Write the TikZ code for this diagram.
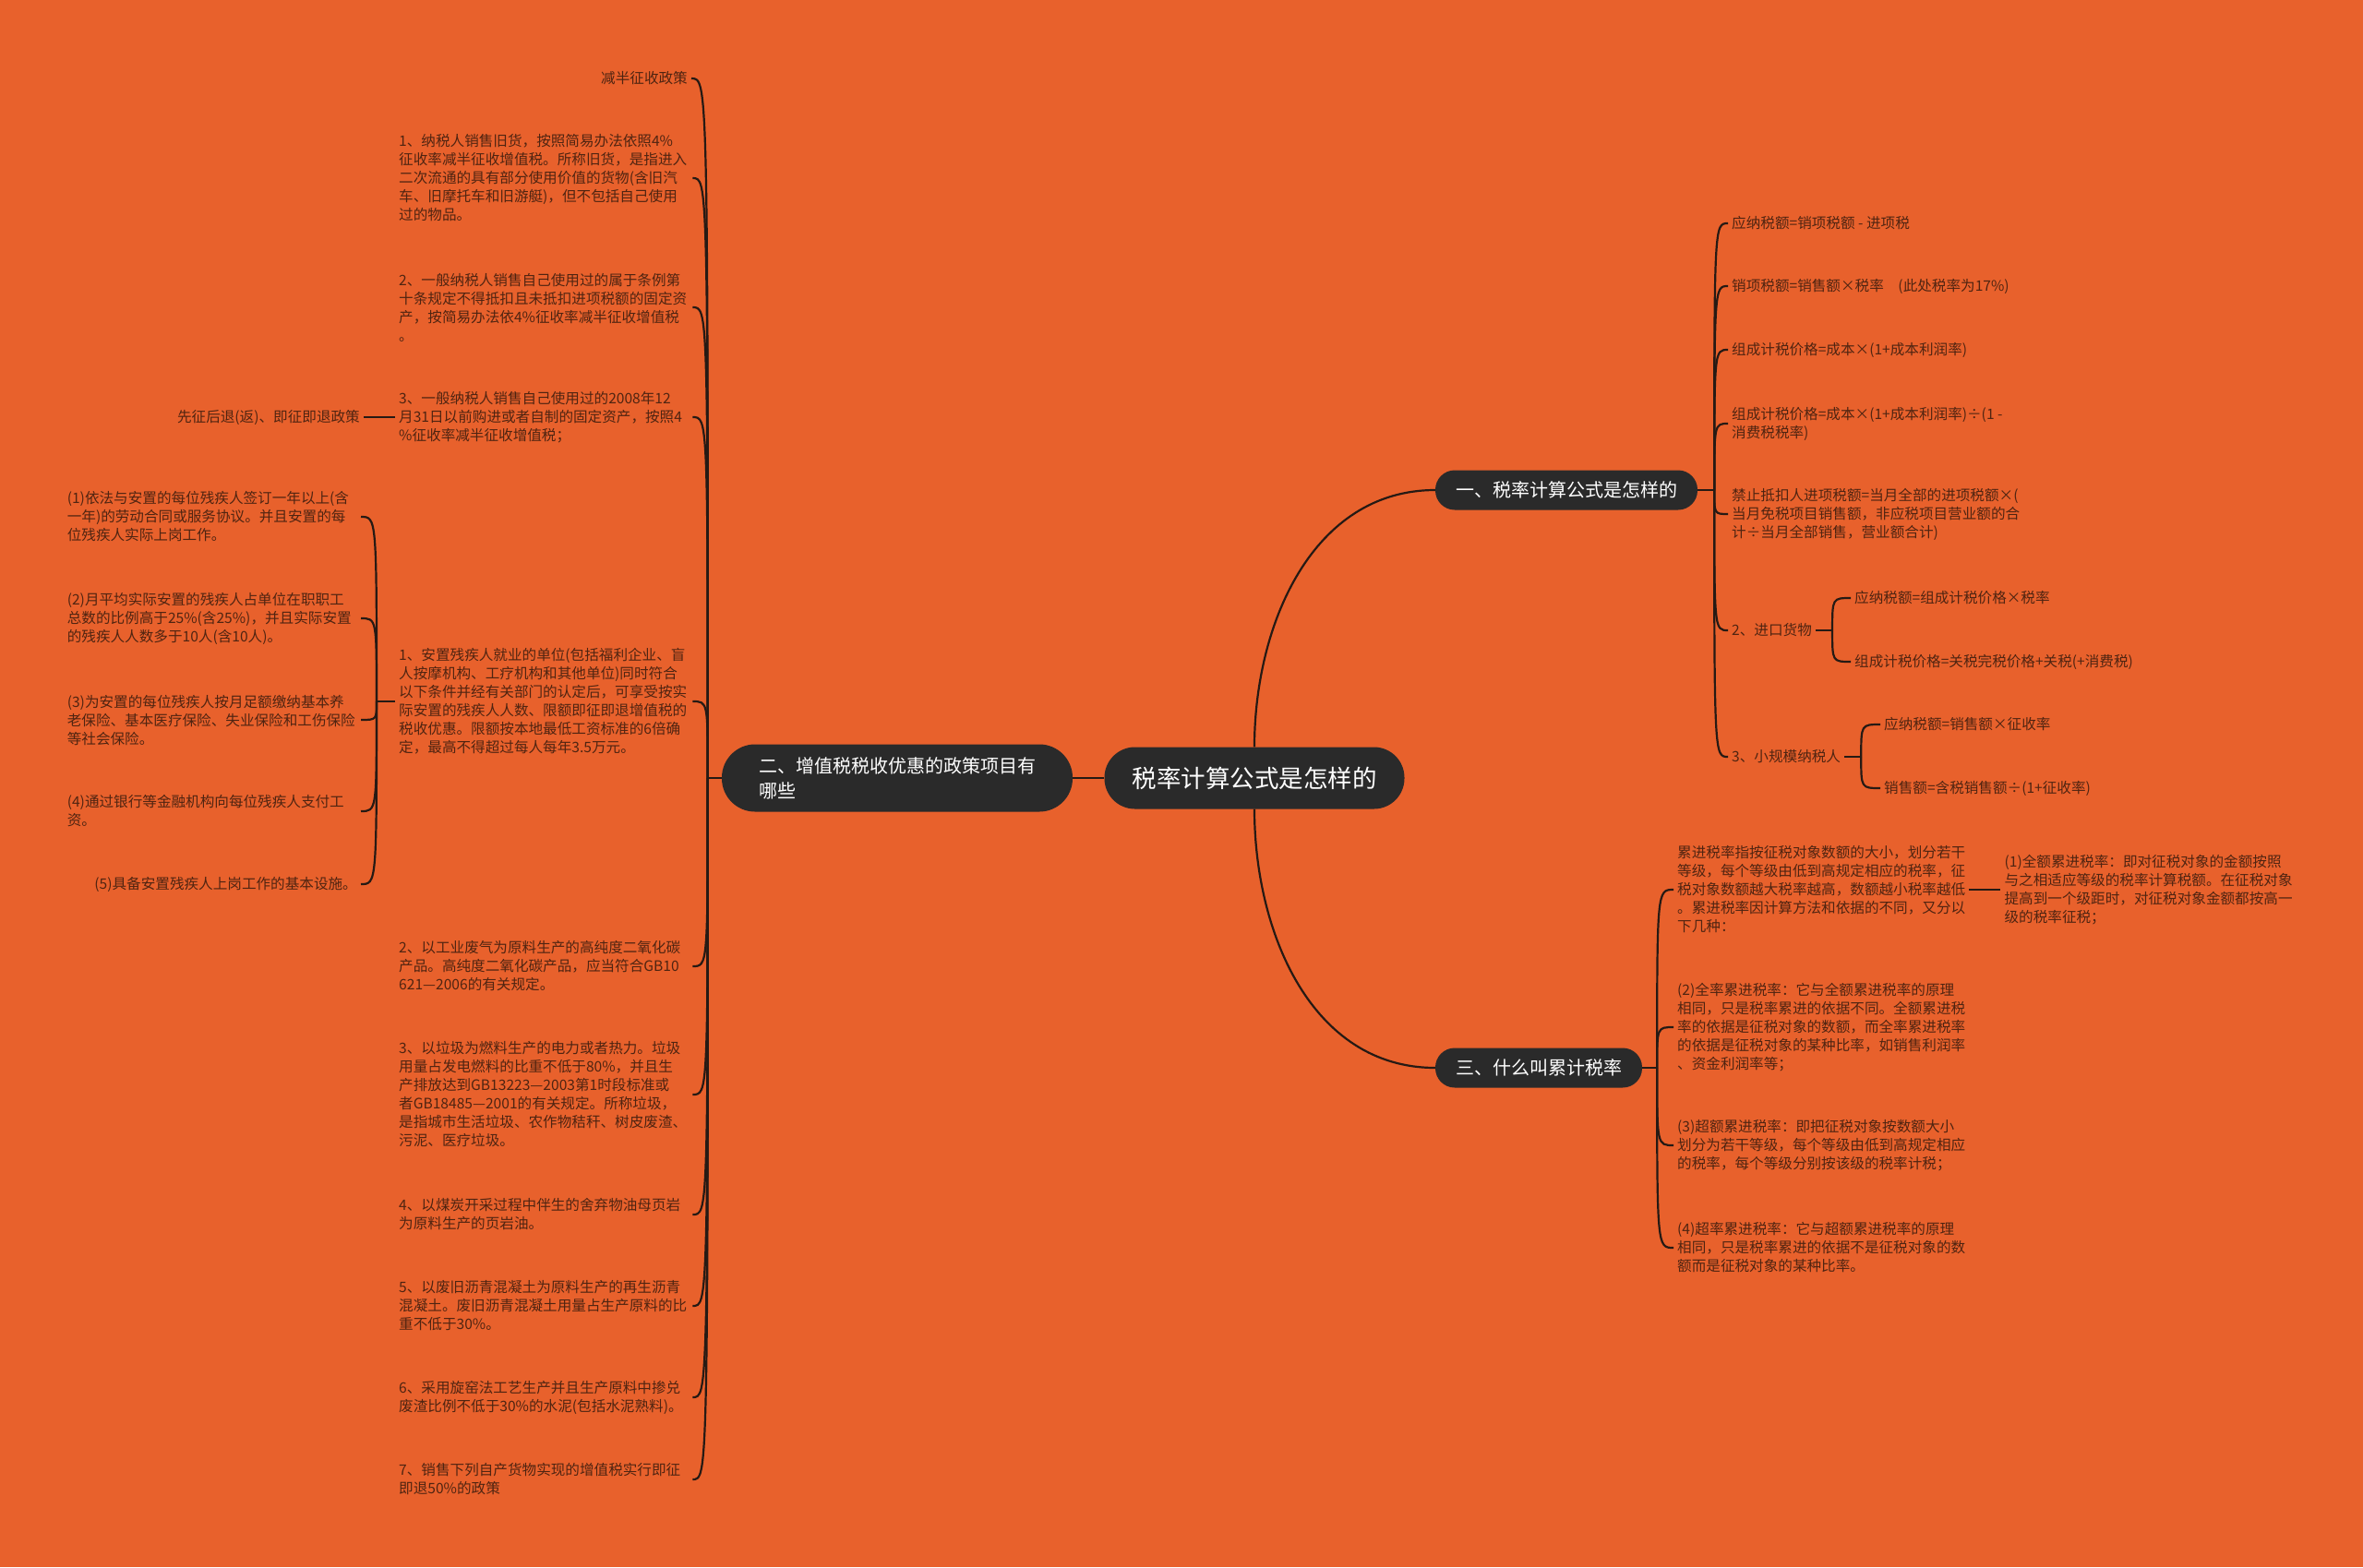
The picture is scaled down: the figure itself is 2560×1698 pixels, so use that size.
\documentclass[tikz,border=0pt]{standalone}
\usepackage{fontspec}
\setmainfont{Noto Sans CJK SC}
\usetikzlibrary{positioning,calc}
\definecolor{bgc}{HTML}{E8612C}
\definecolor{topc}{HTML}{2A2A2A}
\definecolor{leafc}{HTML}{4F2411}
\definecolor{linec}{HTML}{261A14}
\tikzset{
  topic/.style={fill=topc,text=white,rounded corners=21pt,minimum height=43pt,inner xsep=22pt,inner ysep=0pt,font=\fontsize{20}{24}\selectfont},
  leaf/.style={text=leafc,font=\fontsize{15.6}{20}\selectfont,inner sep=4pt,align=left},
  wide/.style={leaf,text width=314pt},
  link/.style={draw=linec,line width=2.2pt}
}
\begin{document}
\begin{tikzpicture}[x=1pt,y=-1pt]
\fill[bgc] (0,0) rectangle (2560,1698);
\useasboundingbox (0,0) rectangle (2560,1698);

\node[topic,rounded corners=33pt,minimum height=67pt,inner xsep=30pt,font=\fontsize{26.5}{30}\selectfont] (root) at (1359,843) {税率计算公式是怎样的};
\node[topic] (b1) at (1697,531) {一、税率计算公式是怎样的};
\node[topic,rounded corners=36pt,minimum height=73pt,inner xsep=40pt,align=left,font=\fontsize{20}{27}\selectfont] (b2) at (972,843) {二、增值税税收优惠的政策项目有\\哪些};
\node[topic] (b3) at (1667,1157) {三、什么叫累计税率};

\node[leaf,anchor=east] (b2a) at (749,85) {减半征收政策};
\node[wide,anchor=west] (b2b) at (428,193) {1、纳税人销售旧货，按照简易办法依照4\%\\征收率减半征收增值税。所称旧货，是指进入\\二次流通的具有部分使用价值的货物(含旧汽\\车、旧摩托车和旧游艇)，但不包括自己使用\\过的物品。};
\node[wide,anchor=west] (b2c) at (428,333) {2、一般纳税人销售自己使用过的属于条例第\\十条规定不得抵扣且未抵扣进项税额的固定资\\产，按简易办法依4\%征收率减半征收增值税\\。};
\node[wide,anchor=west] (b2d) at (428,452) {3、一般纳税人销售自己使用过的2008年12\\月31日以前购进或者自制的固定资产，按照4\\\%征收率减半征收增值税；};
\node[leaf,left=34pt of b2d] (b2d1) {先征后退(返)、即征即退政策};
\node[wide,anchor=west] (b2e) at (428,760) {1、安置残疾人就业的单位(包括福利企业、盲\\人按摩机构、工疗机构和其他单位)同时符合\\以下条件并经有关部门的认定后，可享受按实\\际安置的残疾人人数、限额即征即退增值税的\\税收优惠。限额按本地最低工资标准的6倍确\\定，最高不得超过每人每年3.5万元。};
\node[wide,anchor=east] (b2e1) at (391,560) {(1)依法与安置的每位残疾人签订一年以上(含\\一年)的劳动合同或服务协议。并且安置的每\\位残疾人实际上岗工作。};
\node[wide,anchor=east] (b2e2) at (391,670) {(2)月平均实际安置的残疾人占单位在职职工\\总数的比例高于25\%(含25\%)，并且实际安置\\的残疾人人数多于10人(含10人)。};
\node[wide,anchor=east] (b2e3) at (391,780) {(3)为安置的每位残疾人按月足额缴纳基本养\\老保险、基本医疗保险、失业保险和工伤保险\\等社会保险。};
\node[wide,anchor=east] (b2e4) at (391,879) {(4)通过银行等金融机构向每位残疾人支付工\\资。};
\node[leaf,anchor=east] (b2e5) at (391,958) {(5)具备安置残疾人上岗工作的基本设施。};
\node[wide,anchor=west] (b2f) at (428,1047) {2、以工业废气为原料生产的高纯度二氧化碳\\产品。高纯度二氧化碳产品，应当符合GB10\\621—2006的有关规定。};
\node[wide,anchor=west] (b2g) at (428,1186) {3、以垃圾为燃料生产的电力或者热力。垃圾\\用量占发电燃料的比重不低于80\%，并且生\\产排放达到GB13223—2003第1时段标准或\\者GB18485—2001的有关规定。所称垃圾，\\是指城市生活垃圾、农作物秸秆、树皮废渣、\\污泥、医疗垃圾。};
\node[wide,anchor=west] (b2h) at (428,1316) {4、以煤炭开采过程中伴生的舍弃物油母页岩\\为原料生产的页岩油。};
\node[wide,anchor=west] (b2i) at (428,1415) {5、以废旧沥青混凝土为原料生产的再生沥青\\混凝土。废旧沥青混凝土用量占生产原料的比\\重不低于30\%。};
\node[wide,anchor=west] (b2j) at (428,1514) {6、采用旋窑法工艺生产并且生产原料中掺兑\\废渣比例不低于30\%的水泥(包括水泥熟料)。};
\node[wide,anchor=west] (b2k) at (428,1603) {7、销售下列自产货物实现的增值税实行即征\\即退50\%的政策};

\node[leaf,anchor=west] (b1a) at (1872,242) {应纳税额=销项税额 - 进项税};
\node[leaf,anchor=west] (b1b) at (1872,310) {销项税额=销售额×税率\quad(此处税率为17\%)};
\node[leaf,anchor=west] (b1c) at (1872,379) {组成计税价格=成本×(1+成本利润率)};
\node[leaf,anchor=west] (b1d) at (1872,459) {组成计税价格=成本×(1+成本利润率)÷(1 -\\消费税税率)};
\node[leaf,anchor=west] (b1e) at (1872,557) {禁止抵扣人进项税额=当月全部的进项税额×(\\当月免税项目销售额，非应税项目营业额的合\\计÷当月全部销售，营业额合计)};
\node[leaf,anchor=west] (b1f) at (1872,683) {2、进口货物};
\node[leaf,anchor=west] (b1f1) at (2005,648) {应纳税额=组成计税价格×税率};
\node[leaf,anchor=west] (b1f2) at (2005,717) {组成计税价格=关税完税价格+关税(+消费税)};
\node[leaf,anchor=west] (b1g) at (1872,820) {3、小规模纳税人};
\node[leaf,anchor=west] (b1g1) at (2037,785) {应纳税额=销售额×征收率};
\node[leaf,anchor=west] (b1g2) at (2037,854) {销售额=含税销售额÷(1+征收率)};

\node[leaf,anchor=west] (b3a) at (1813,964) {累进税率指按征税对象数额的大小，划分若干\\等级，每个等级由低到高规定相应的税率，征\\税对象数额越大税率越高，数额越小税率越低\\。累进税率因计算方法和依据的不同，又分以\\下几种：};
\node[leaf,right=34pt of b3a] (b3a1) {(1)全额累进税率：即对征税对象的金额按照\\与之相适应等级的税率计算税额。在征税对象\\提高到一个级距时，对征税对象金额都按高一\\级的税率征税；};
\node[leaf,anchor=west] (b3b) at (1813,1113) {(2)全率累进税率：它与全额累进税率的原理\\相同，只是税率累进的依据不同。全额累进税\\率的依据是征税对象的数额，而全率累进税率\\的依据是征税对象的某种比率，如销售利润率\\、资金利润率等；};
\node[leaf,anchor=west] (b3c) at (1813,1241) {(3)超额累进税率：即把征税对象按数额大小\\划分为若干等级，每个等级由低到高规定相应\\的税率，每个等级分别按该级的税率计税；};
\node[leaf,anchor=west] (b3d) at (1813,1352) {(4)超率累进税率：它与超额累进税率的原理\\相同，只是税率累进的依据不是征税对象的数\\额而是征税对象的某种比率。};

\draw[link] (root.west) -- (b2.east);
\draw[link] (root.north) to[out=90,in=180] (b1.west);
\draw[link] (root.south) to[out=-90,in=180] (b3.west);

\coordinate (j2) at ($(b2.west)+(-15,0)$);
\draw[link] (b2.west) -- (j2);
\foreach \c in {b2a,b2b,b2c,b2d,b2e,b2f,b2g,b2h,b2i,b2j,b2k}
  \draw[link] (j2) .. controls (j2 |- \c.east) .. (\c.east);
\draw[link] (b2d.west) -- (b2d1.east);
\coordinate (j2e) at ($(b2e.west)+(-20,0)$);
\draw[link] (b2e.west) -- (j2e);
\foreach \c in {b2e1,b2e2,b2e3,b2e4,b2e5}
  \draw[link] (j2e) .. controls (j2e |- \c.east) .. (\c.east);

\coordinate (j1) at ($(b1.east)+(18,0)$);
\draw[link] (b1.east) -- (j1);
\foreach \c in {b1a,b1b,b1c,b1d,b1e,b1f,b1g}
  \draw[link] (j1) .. controls (j1 |- \c.west) .. (\c.west);
\coordinate (j1f) at ($(b1f.east)+(18,0)$);
\draw[link] (b1f.east) -- (j1f);
\foreach \c in {b1f1,b1f2}
  \draw[link] (j1f) .. controls (j1f |- \c.west) .. (\c.west);
\coordinate (j1g) at ($(b1g.east)+(18,0)$);
\draw[link] (b1g.east) -- (j1g);
\foreach \c in {b1g1,b1g2}
  \draw[link] (j1g) .. controls (j1g |- \c.west) .. (\c.west);

\coordinate (j3) at ($(b3.east)+(16,0)$);
\draw[link] (b3.east) -- (j3);
\foreach \c in {b3a,b3b,b3c,b3d}
  \draw[link] (j3) .. controls (j3 |- \c.west) .. (\c.west);
\draw[link] (b3a.east) -- (b3a1.west);
\end{tikzpicture}
\end{document}
